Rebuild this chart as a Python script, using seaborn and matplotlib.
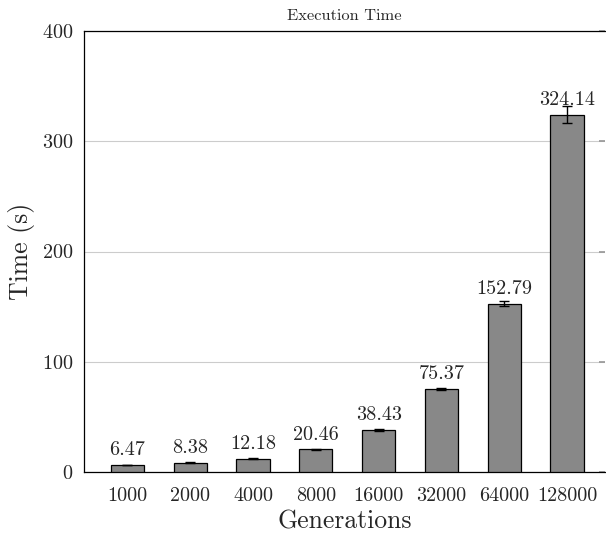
import matplotlib
matplotlib.use("Agg")
import matplotlib.pyplot as plt
import seaborn as sns
import pandas as pd
import numpy as np

generations = ["1000", "2000", "4000", "8000", "16000", "32000", "64000", "128000"]
times = [6.47, 8.38, 12.18, 20.46, 38.43, 75.37, 152.79, 324.14]
errors = [0.3, 0.3, 0.4, 0.5, 0.8, 1.0, 2.0, 8.0]

sns.set_theme(style="white")
plt.rcParams["font.family"] = ["cmr10", "DejaVu Serif"]
plt.rcParams["axes.formatter.use_mathtext"] = True
plt.rcParams["mathtext.fontset"] = "cm"

df = pd.DataFrame({"Generations": generations, "Time": times})

fig = plt.figure(figsize=(6.06, 5.41), dpi=100)
ax = fig.add_axes([84/606, 1-472/541, (606-84)/606 - 0.002, (472-31)/541])

sns.barplot(data=df, x="Generations", y="Time", color="#888888", saturation=1,
            edgecolor="black", linewidth=0.9, width=0.53, ax=ax, zorder=3)
ax.errorbar(np.arange(len(times)), times, yerr=errors, fmt="none",
            ecolor="black", elinewidth=1.0, capsize=3.5, capthick=1.0, zorder=4)

for i, v in enumerate(times):
    ax.text(i, v + 5, f"{v:.2f}", ha="center", va="bottom", fontsize=14.5, zorder=5)

ax.set_ylim(0, 400)
ax.set_xlim(-0.69, 7.6)
ax.set_yticks([0, 100, 200, 300, 400])
ax.yaxis.grid(True, color="#cccccc", linewidth=0.8, zorder=0)
ax.set_axisbelow(True)
for s in ["left", "bottom", "top"]:
    ax.spines[s].set_visible(True)
    ax.spines[s].set_color("black")
    ax.spines[s].set_linewidth(0.9)
ax.spines["right"].set_visible(False)
ax.tick_params(axis="y", left=False, right=True, direction="in", length=4,
               labelsize=14.5, color="#999999", pad=8)
ax.tick_params(axis="x", bottom=False, labelsize=14.5, pad=5)
ax.set_xlabel("Generations", fontsize=18.5, labelpad=3)
ax.set_ylabel("Time (s)", fontsize=18.5, labelpad=5)
ax.set_title("Execution Time", fontsize=11.8, pad=8)

fig.savefig("out.png", dpi=100)
